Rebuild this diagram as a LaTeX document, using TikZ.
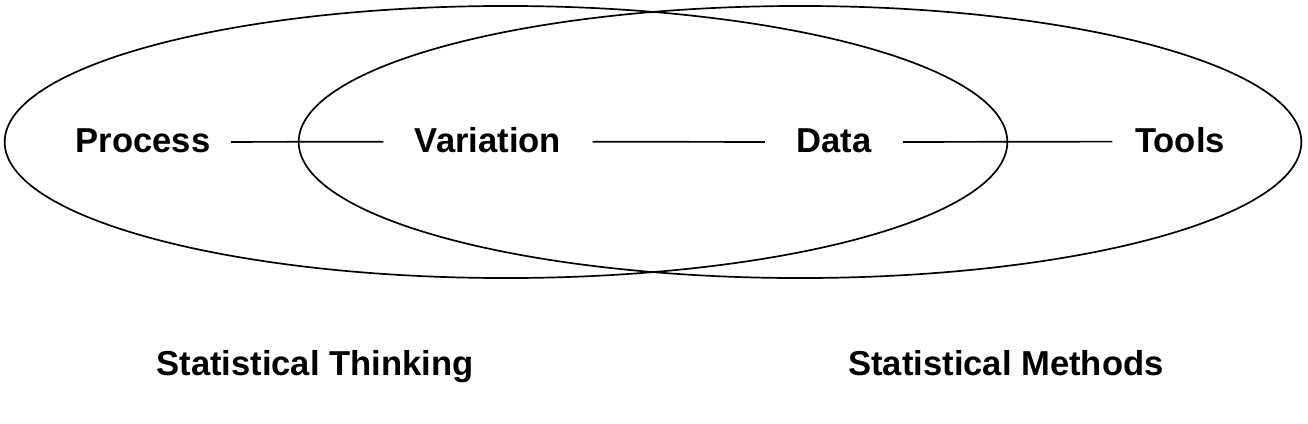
\documentclass[tikz,border=0pt]{standalone}
\usepackage{fontspec}
\setmainfont{Liberation Sans}
\usepackage{tikz}
\usetikzlibrary{arrows,shapes,positioning,calc}

\begin{document}
\begin{tikzpicture}[x=0.025cm, y=-0.025cm, line width=1.2pt,
  term/.style={inner sep=0pt, anchor=base, text depth=0.1cm,
    font=\fontsize{24.6}{28}\selectfont\bfseries},
  link/.style={shorten <=0.77cm, shorten >=0.77cm}]
\useasboundingbox (0,0) rectangle (1308,423);

% Ellipses
\draw (506,142) ellipse [x radius=12.53cm, y radius=3.4cm];
\draw (800,142) ellipse [x radius=12.53cm, y radius=3.4cm];

% Terms
\node[term] (process) at (143,152) {Process};
\node[term] (variation) at (488,152) {Variation};
\node[term] (data) at (834,152) {Data};
\node[term] (tools) at (1180,152) {Tools};

% Links
\draw[link, shorten <=0.5cm] (process) -- (variation);
\draw[link] (variation) -- (data);
\draw[link, shorten >=0.55cm] (data) -- (tools);

% Captions
\node[term] (thinking) at (315,375) {Statistical Thinking};
\node[term] (methods) at (1006,375) {Statistical Methods};

\end{tikzpicture}
\end{document}
